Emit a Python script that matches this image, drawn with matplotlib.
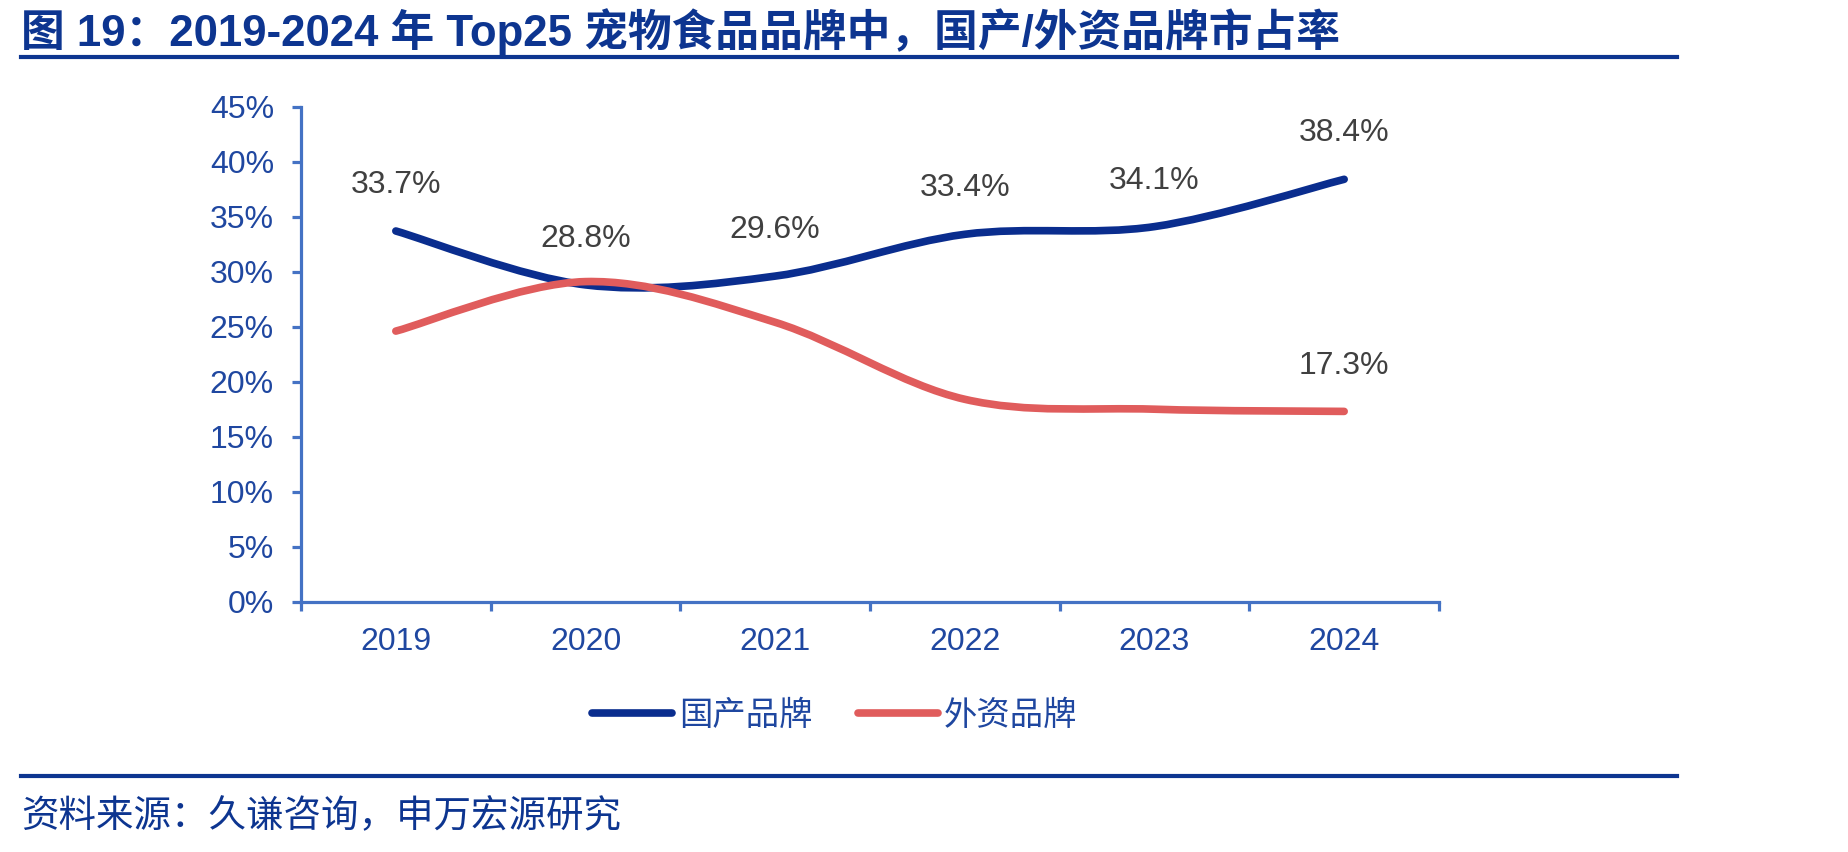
import numpy as np
import matplotlib
matplotlib.use("Agg")
from matplotlib import pyplot as plt
from matplotlib.path import Path
from matplotlib.patches import PathPatch
from matplotlib.lines import Line2D

plt.rcParams['font.family'] = ['Liberation Sans', 'Noto Sans CJK SC', 'DejaVu Sans']

years = ['2019', '2020', '2021', '2022', '2023', '2024']
domestic = [33.7, 28.8, 29.6, 33.4, 34.1, 38.4]
foreign = [24.6, 29.1, 25.4, 18.4, 17.5, 17.3]
domestic_labels = ['33.7%', '28.8%', '29.6%', '33.4%', '34.1%', '38.4%']
foreign_labels = {5: '17.3%'}
yticks = [0, 5, 10, 15, 20, 25, 30, 35, 40, 45]
series_names = ['国产品牌', '外资品牌']

blue = '#0A2D8E'
red = '#E05C5C'
axis_col = '#4472C4'
tick_col = '#1F47A0'
title_col = '#0D3590'
label_col = '#404040'


def smooth_path(x, y):
    # smooth curve through the points, like an Excel "smoothed line"
    pts = np.column_stack([x, y]).astype(float)
    n = len(pts)
    verts = [pts[0]]
    codes = [Path.MOVETO]
    for i in range(n - 1):
        p0 = pts[i - 1] if i > 0 else pts[i]
        p1 = pts[i]
        p2 = pts[i + 1]
        p3 = pts[i + 2] if i + 2 < n else pts[i + 1]
        c1 = p1 + (p2 - p0) / 6.0
        c2 = p2 - (p3 - p1) / 6.0
        verts += [c1, c2, p2]
        codes += [Path.CURVE4] * 3
    return Path(verts, codes)


fig = plt.figure(figsize=(18.49, 8.52), dpi=100)
ax = fig.add_axes([301 / 1849, 1 - 601.7 / 852, 1138 / 1849, 495 / 852])

x = np.arange(len(years))
for vals, col in [(domestic, blue), (foreign, red)]:
    patch = PathPatch(smooth_path(x, vals), facecolor='none', edgecolor=col,
                      linewidth=5.5, capstyle='round', joinstyle='round')
    ax.add_patch(patch)

for i, lab in enumerate(domestic_labels):
    ax.annotate(lab, (x[i], domestic[i]), xytext=(0, 33), textcoords='offset points',
                ha='center', va='center', fontsize=23, color=label_col)
for i, lab in foreign_labels.items():
    ax.annotate(lab, (x[i], foreign[i]), xytext=(0, 33), textcoords='offset points',
                ha='center', va='center', fontsize=23, color=label_col)

ax.set_xlim(-0.5, len(years) - 0.5)
ax.set_ylim(0, 45)
ax.set_yticks(yticks)
ax.set_yticklabels([f'{v}%' for v in yticks])
ax.set_xticks(np.arange(-0.5, len(years), 1.0))
ax.set_xticklabels([])
ax.set_xticks(x, minor=True)
ax.set_xticklabels(years, minor=True)

for s in ['top', 'right']:
    ax.spines[s].set_visible(False)
for s in ['left', 'bottom']:
    ax.spines[s].set_color(axis_col)
    ax.spines[s].set_linewidth(2.3)
ax.tick_params(axis='y', direction='out', length=6.5, width=2.3, color=axis_col,
               labelsize=23, labelcolor=tick_col, pad=13)
ax.tick_params(axis='x', which='major', direction='out', length=6.5, width=2.3, color=axis_col)
ax.tick_params(axis='x', which='minor', length=0, labelsize=23, labelcolor=tick_col, pad=18)

handles = [Line2D([], [], color=blue, lw=5.5, solid_capstyle='round'),
           Line2D([], [], color=red, lw=5.5, solid_capstyle='round')]
leg = fig.legend(handles, series_names, loc='center', bbox_to_anchor=(835 / 1849, 1 - 715 / 852),
                 ncol=2, frameon=False, handlelength=2.4, handletextpad=0.2,
                 columnspacing=1.35, prop={'family': ['Noto Sans CJK SC'], 'size': 24})
for t in leg.get_texts():
    t.set_color(tick_col)

fig.text(21 / 1849, 1 - 32 / 852, '图 19：2019-2024 年 Top25 宠物食品品牌中，国产/外资品牌市占率',
         fontsize=31.5, fontweight='bold', color=title_col, ha='left', va='center')
fig.add_artist(Line2D([21 / 1849, 1677 / 1849], [1 - 57 / 852, 1 - 57 / 852],
                      color=title_col, lw=3, transform=fig.transFigure))
fig.add_artist(Line2D([21 / 1849, 1677 / 1849], [1 - 776 / 852, 1 - 776 / 852],
                      color=title_col, lw=3, transform=fig.transFigure))
fig.text(21 / 1849, 1 - 817 / 852, '资料来源：久谦咨询，申万宏源研究',
         fontsize=27, color=title_col, ha='left', va='center',
         family=['Noto Sans CJK SC'])

fig.savefig('out.png', dpi=100)
